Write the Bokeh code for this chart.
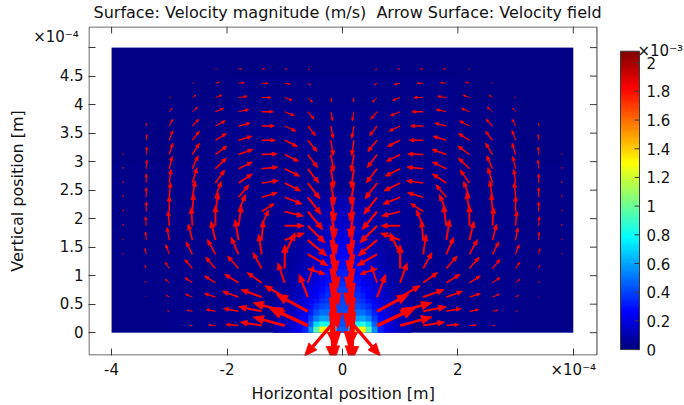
import numpy as np
from bokeh.plotting import figure
from bokeh.models import LinearColorMapper, FixedTicker, CustomJSTickFormatter, Range1d
from bokeh.core.properties import value
from bokeh.embed import file_html
from bokeh.resources import INLINE

FONT = "DejaVu Sans"

# ---------------- data (positions in 1e-4 m, velocities in 1e-3 m/s) ----------------
arrow_x = [-3.8, -3.4, -3.0, -2.6, -2.2, -1.8, -1.4, -1.0, -0.6, -0.2,
           0.2, 0.6, 1.0, 1.4, 1.8, 2.2, 2.6, 3.0, 3.4, 3.8]
arrow_y = [0.125, 0.375, 0.625, 0.875, 1.125, 1.375, 1.625, 1.875, 2.125, 2.375,
           2.625, 2.875, 3.125, 3.375, 3.625, 3.875, 4.125, 4.375, 4.625, 4.875]

# horizontal arrow component, rows bottom -> top
u_field = [
    [0, 0, 0, -0.04, -0.12, -0.22, -0.37, -0.55, -0.68, -0.46, 0.46, 0.68, 0.55, 0.37, 0.22, 0.12, 0.04, 0, 0, 0],
    [0, 0, -0.03, -0.09, -0.16, -0.26, -0.40, -0.55, -0.55, 0.05, -0.05, 0.55, 0.55, 0.40, 0.26, 0.16, 0.09, 0.03, 0, 0],
    [0, -0.01, -0.05, -0.12, -0.19, -0.28, -0.36, -0.35, -0.15, 0.08, -0.08, 0.15, 0.35, 0.36, 0.28, 0.19, 0.12, 0.05, 0.01, 0],
    [0, -0.02, -0.07, -0.13, -0.19, -0.24, -0.25, -0.12, 0.10, 0.12, -0.12, -0.10, 0.12, 0.25, 0.24, 0.19, 0.13, 0.07, 0.02, 0],
    [0, -0.02, -0.07, -0.13, -0.17, -0.19, -0.15, 0.0, 0.30, 0.13, -0.13, -0.30, 0.0, 0.15, 0.19, 0.17, 0.13, 0.07, 0.02, 0],
    [0, -0.02, -0.06, -0.11, -0.14, -0.13, -0.05, 0.18, 0.35, 0.12, -0.12, -0.35, -0.18, 0.05, 0.13, 0.14, 0.11, 0.06, 0.02, 0],
    [0, -0.01, -0.04, -0.07, -0.08, -0.06, 0.03, 0.34, 0.33, 0.10, -0.10, -0.33, -0.34, -0.03, 0.06, 0.08, 0.07, 0.04, 0.01, 0],
    [0, -0.01, -0.02, -0.02, 0.0, 0.05, 0.12, 0.33, 0.30, 0.09, -0.09, -0.30, -0.33, -0.12, -0.05, 0.0, 0.02, 0.02, 0.01, 0],
    [0, 0, 0, 0.02, 0.05, 0.12, 0.22, 0.32, 0.26, 0.08, -0.08, -0.26, -0.32, -0.22, -0.12, -0.05, -0.02, 0, 0, 0],
    [0, 0, 0.02, 0.05, 0.10, 0.18, 0.27, 0.30, 0.23, 0.07, -0.07, -0.23, -0.30, -0.27, -0.18, -0.10, -0.05, -0.02, 0, 0],
    [0, 0, 0.03, 0.08, 0.16, 0.24, 0.29, 0.28, 0.21, 0.06, -0.06, -0.21, -0.28, -0.29, -0.24, -0.16, -0.08, -0.03, 0, 0],
    [0, 0.01, 0.05, 0.10, 0.19, 0.24, 0.28, 0.26, 0.19, 0.05, -0.05, -0.19, -0.26, -0.28, -0.24, -0.19, -0.10, -0.05, -0.01, 0],
    [0, 0.01, 0.06, 0.12, 0.20, 0.25, 0.27, 0.24, 0.17, 0.05, -0.05, -0.17, -0.24, -0.27, -0.25, -0.20, -0.12, -0.06, -0.01, 0],
    [0, 0.01, 0.06, 0.12, 0.19, 0.23, 0.24, 0.22, 0.16, 0.04, -0.04, -0.16, -0.22, -0.24, -0.23, -0.19, -0.12, -0.06, -0.01, 0],
    [0, 0, 0.06, 0.11, 0.17, 0.20, 0.22, 0.19, 0.13, 0.04, -0.04, -0.13, -0.19, -0.22, -0.20, -0.17, -0.11, -0.06, 0, 0],
    [0, 0, 0.05, 0.09, 0.14, 0.18, 0.20, 0.17, 0.11, 0.03, -0.03, -0.11, -0.17, -0.20, -0.18, -0.14, -0.09, -0.05, 0, 0],
    [0, 0, 0.02, 0.06, 0.11, 0.15, 0.16, 0.13, 0.08, 0.01, -0.01, -0.08, -0.13, -0.16, -0.15, -0.11, -0.06, -0.02, 0, 0],
    [0, 0, 0, 0.02, 0.07, 0.10, 0.11, 0.10, 0.05, 0, 0, -0.05, -0.10, -0.11, -0.10, -0.07, -0.02, 0, 0, 0],
    [0, 0, 0, 0, 0.02, 0.05, 0.05, 0.04, 0.03, 0, 0, -0.03, -0.04, -0.05, -0.05, -0.02, 0, 0, 0, 0],
    [0, 0, 0, 0, 0, 0, 0, 0, 0, 0, 0, 0, 0, 0, 0, 0, 0, 0, 0, 0],
]
# vertical arrow component, rows bottom -> top
v_field = [
    [0, 0, 0, 0, 0.01, 0.02, 0.06, 0.15, 0.32, -0.54, -0.54, 0.32, 0.15, 0.06, 0.02, 0.01, 0, 0, 0, 0],
    [0, 0, 0.01, 0.02, 0.03, 0.05, 0.08, 0.15, 0.30, -0.90, -0.90, 0.30, 0.15, 0.08, 0.05, 0.03, 0.02, 0.01, 0, 0],
    [0, 0.01, 0.03, 0.05, 0.06, 0.10, 0.13, 0.20, 0.40, -0.90, -0.90, 0.40, 0.20, 0.13, 0.10, 0.06, 0.05, 0.03, 0.01, 0],
    [0.01, 0.03, 0.06, 0.09, 0.12, 0.15, 0.18, 0.35, 0.30, -0.80, -0.80, 0.30, 0.35, 0.18, 0.15, 0.12, 0.09, 0.06, 0.03, 0.01],
    [0.01, 0.06, 0.11, 0.16, 0.20, 0.22, 0.28, 0.42, -0.10, -0.65, -0.65, -0.10, 0.42, 0.28, 0.22, 0.20, 0.16, 0.11, 0.06, 0.01],
    [0.02, 0.10, 0.17, 0.22, 0.26, 0.30, 0.35, 0.38, -0.20, -0.60, -0.60, -0.20, 0.38, 0.35, 0.30, 0.26, 0.22, 0.17, 0.10, 0.02],
    [0.02, 0.14, 0.22, 0.28, 0.33, 0.36, 0.34, 0.12, -0.28, -0.55, -0.55, -0.28, 0.12, 0.34, 0.36, 0.33, 0.28, 0.22, 0.14, 0.02],
    [0.03, 0.16, 0.26, 0.32, 0.36, 0.36, 0.28, 0.0, -0.30, -0.50, -0.50, -0.30, 0.0, 0.28, 0.36, 0.36, 0.32, 0.26, 0.16, 0.03],
    [0.03, 0.17, 0.27, 0.31, 0.33, 0.30, 0.14, -0.08, -0.32, -0.46, -0.46, -0.32, -0.08, 0.14, 0.30, 0.33, 0.31, 0.27, 0.17, 0.03],
    [0.03, 0.17, 0.26, 0.29, 0.28, 0.22, 0.08, -0.12, -0.30, -0.42, -0.42, -0.30, -0.12, 0.08, 0.22, 0.28, 0.29, 0.26, 0.17, 0.03],
    [0.03, 0.16, 0.24, 0.27, 0.23, 0.16, 0.04, -0.14, -0.28, -0.38, -0.38, -0.28, -0.14, 0.04, 0.16, 0.23, 0.27, 0.24, 0.16, 0.03],
    [0.03, 0.15, 0.22, 0.23, 0.19, 0.12, 0.03, -0.13, -0.25, -0.34, -0.34, -0.25, -0.13, 0.03, 0.12, 0.19, 0.23, 0.22, 0.15, 0.03],
    [0.02, 0.13, 0.20, 0.20, 0.15, 0.09, 0.01, -0.12, -0.23, -0.30, -0.30, -0.23, -0.12, 0.01, 0.09, 0.15, 0.20, 0.20, 0.13, 0.02],
    [0, 0.10, 0.17, 0.16, 0.12, 0.07, 0, -0.11, -0.20, -0.27, -0.27, -0.20, -0.11, 0, 0.07, 0.12, 0.16, 0.17, 0.10, 0],
    [0, 0.05, 0.12, 0.12, 0.09, 0.05, 0, -0.09, -0.17, -0.22, -0.22, -0.17, -0.09, 0, 0.05, 0.09, 0.12, 0.12, 0.05, 0],
    [0, 0.01, 0.06, 0.08, 0.06, 0.04, 0, -0.07, -0.13, -0.16, -0.16, -0.13, -0.07, 0, 0.04, 0.06, 0.08, 0.06, 0.01, 0],
    [0, 0, 0.01, 0.04, 0.04, 0.02, 0, -0.05, -0.08, -0.08, -0.08, -0.08, -0.05, 0, 0.02, 0.04, 0.04, 0.01, 0, 0],
    [0, 0, 0, 0.01, 0.02, 0.01, 0, -0.02, -0.03, -0.01, -0.01, -0.03, -0.02, 0, 0.01, 0.02, 0.01, 0, 0, 0],
    [0, 0, 0, 0, 0, 0, 0, 0, -0.01, 0, 0, -0.01, 0, 0, 0, 0, 0, 0, 0, 0],
    [0, 0, 0, 0, 0, 0, 0, 0, 0, 0, 0, 0, 0, 0, 0, 0, 0, 0, 0, 0],
]

# velocity magnitude over the whole domain (8 x 10 cells of 1.0 x 0.5), rows bottom -> top
mag_domain = [
    [0.02, 0.03, 0.04, 0.05, 0.05, 0.04, 0.03, 0.02],
    [0.02, 0.03, 0.04, 0.05, 0.05, 0.04, 0.03, 0.02],
    [0.02, 0.03, 0.04, 0.05, 0.05, 0.04, 0.03, 0.02],
    [0.02, 0.03, 0.04, 0.05, 0.05, 0.04, 0.03, 0.02],
    [0.02, 0.03, 0.04, 0.05, 0.05, 0.04, 0.03, 0.02],
    [0.02, 0.03, 0.04, 0.04, 0.04, 0.04, 0.03, 0.02],
    [0.01, 0.02, 0.03, 0.04, 0.04, 0.03, 0.02, 0.01],
    [0.01, 0.02, 0.03, 0.03, 0.03, 0.03, 0.02, 0.01],
    [0.01, 0.01, 0.02, 0.02, 0.02, 0.02, 0.01, 0.01],
    [0.01, 0.01, 0.01, 0.01, 0.01, 0.01, 0.01, 0.01],
]
# velocity magnitude near the source: 24 x 24 cells of 0.1 x 0.1 (x -1.2..1.2, y 0..2.4), rows bottom -> top
mag_center = [
    [0.10, 0.12, 0.14, 0.18, 0.24, 0.33, 0.55, 0.95, 1.30, 1.25, 0.80, 0.45, 0.45, 0.80, 1.25, 1.30, 0.95, 0.55, 0.33, 0.24, 0.18, 0.14, 0.12, 0.10],
    [0.09, 0.11, 0.13, 0.17, 0.22, 0.30, 0.45, 0.70, 0.85, 0.80, 0.60, 0.42, 0.42, 0.60, 0.80, 0.85, 0.70, 0.45, 0.30, 0.22, 0.17, 0.13, 0.11, 0.09],
    [0.08, 0.10, 0.12, 0.15, 0.20, 0.27, 0.38, 0.52, 0.60, 0.58, 0.50, 0.42, 0.42, 0.50, 0.58, 0.60, 0.52, 0.38, 0.27, 0.20, 0.15, 0.12, 0.10, 0.08],
    [0.07, 0.09, 0.11, 0.14, 0.18, 0.24, 0.32, 0.42, 0.48, 0.48, 0.45, 0.42, 0.42, 0.45, 0.48, 0.48, 0.42, 0.32, 0.24, 0.18, 0.14, 0.11, 0.09, 0.07],
    [0.07, 0.08, 0.10, 0.13, 0.16, 0.21, 0.28, 0.35, 0.40, 0.42, 0.42, 0.41, 0.41, 0.42, 0.42, 0.40, 0.35, 0.28, 0.21, 0.16, 0.13, 0.10, 0.08, 0.07],
    [0.06, 0.07, 0.09, 0.12, 0.15, 0.19, 0.24, 0.30, 0.35, 0.38, 0.40, 0.40, 0.40, 0.40, 0.38, 0.35, 0.30, 0.24, 0.19, 0.15, 0.12, 0.09, 0.07, 0.06],
    [0.06, 0.07, 0.08, 0.11, 0.13, 0.17, 0.21, 0.26, 0.31, 0.35, 0.38, 0.39, 0.39, 0.38, 0.35, 0.31, 0.26, 0.21, 0.17, 0.13, 0.11, 0.08, 0.07, 0.06],
    [0.05, 0.06, 0.08, 0.10, 0.12, 0.15, 0.19, 0.23, 0.28, 0.33, 0.36, 0.38, 0.38, 0.36, 0.33, 0.28, 0.23, 0.19, 0.15, 0.12, 0.10, 0.08, 0.06, 0.05],
    [0.05, 0.06, 0.07, 0.09, 0.11, 0.14, 0.17, 0.21, 0.25, 0.30, 0.34, 0.36, 0.36, 0.34, 0.30, 0.25, 0.21, 0.17, 0.14, 0.11, 0.09, 0.07, 0.06, 0.05],
    [0.05, 0.06, 0.07, 0.08, 0.10, 0.13, 0.16, 0.19, 0.23, 0.28, 0.32, 0.34, 0.34, 0.32, 0.28, 0.23, 0.19, 0.16, 0.13, 0.10, 0.08, 0.07, 0.06, 0.05],
    [0.05, 0.05, 0.06, 0.08, 0.09, 0.12, 0.14, 0.17, 0.21, 0.26, 0.30, 0.32, 0.32, 0.30, 0.26, 0.21, 0.17, 0.14, 0.12, 0.09, 0.08, 0.06, 0.05, 0.05],
    [0.05, 0.05, 0.06, 0.07, 0.09, 0.11, 0.13, 0.16, 0.19, 0.24, 0.28, 0.30, 0.30, 0.28, 0.24, 0.19, 0.16, 0.13, 0.11, 0.09, 0.07, 0.06, 0.05, 0.05],
    [0.05, 0.05, 0.06, 0.07, 0.08, 0.10, 0.12, 0.15, 0.18, 0.22, 0.26, 0.28, 0.28, 0.26, 0.22, 0.18, 0.15, 0.12, 0.10, 0.08, 0.07, 0.06, 0.05, 0.05],
    [0.05, 0.05, 0.06, 0.07, 0.08, 0.09, 0.11, 0.13, 0.16, 0.20, 0.24, 0.26, 0.26, 0.24, 0.20, 0.16, 0.13, 0.11, 0.09, 0.08, 0.07, 0.06, 0.05, 0.05],
    [0.05, 0.05, 0.06, 0.06, 0.07, 0.09, 0.10, 0.12, 0.15, 0.18, 0.22, 0.24, 0.24, 0.22, 0.18, 0.15, 0.12, 0.10, 0.09, 0.07, 0.06, 0.06, 0.05, 0.05],
    [0.05, 0.05, 0.05, 0.06, 0.07, 0.08, 0.09, 0.11, 0.14, 0.17, 0.20, 0.22, 0.22, 0.20, 0.17, 0.14, 0.11, 0.09, 0.08, 0.07, 0.06, 0.05, 0.05, 0.05],
    [0.05, 0.05, 0.05, 0.06, 0.07, 0.08, 0.09, 0.11, 0.13, 0.16, 0.19, 0.20, 0.20, 0.19, 0.16, 0.13, 0.11, 0.09, 0.08, 0.07, 0.06, 0.05, 0.05, 0.05],
    [0.05, 0.05, 0.05, 0.06, 0.06, 0.07, 0.08, 0.10, 0.12, 0.15, 0.17, 0.18, 0.18, 0.17, 0.15, 0.12, 0.10, 0.08, 0.07, 0.06, 0.06, 0.05, 0.05, 0.05],
    [0.05, 0.05, 0.05, 0.06, 0.06, 0.07, 0.08, 0.09, 0.11, 0.13, 0.15, 0.16, 0.16, 0.15, 0.13, 0.11, 0.09, 0.08, 0.07, 0.06, 0.06, 0.05, 0.05, 0.05],
    [0.05, 0.05, 0.05, 0.05, 0.06, 0.07, 0.08, 0.09, 0.10, 0.12, 0.14, 0.15, 0.15, 0.14, 0.12, 0.10, 0.09, 0.08, 0.07, 0.06, 0.05, 0.05, 0.05, 0.05],
    [0.05, 0.05, 0.05, 0.05, 0.06, 0.06, 0.07, 0.08, 0.10, 0.11, 0.12, 0.13, 0.13, 0.12, 0.11, 0.10, 0.08, 0.07, 0.06, 0.06, 0.05, 0.05, 0.05, 0.05],
    [0.05, 0.05, 0.05, 0.05, 0.06, 0.06, 0.07, 0.08, 0.09, 0.10, 0.11, 0.12, 0.12, 0.11, 0.10, 0.09, 0.08, 0.07, 0.06, 0.06, 0.05, 0.05, 0.05, 0.05],
    [0.05, 0.05, 0.05, 0.05, 0.05, 0.06, 0.07, 0.07, 0.08, 0.09, 0.10, 0.11, 0.11, 0.10, 0.09, 0.08, 0.07, 0.07, 0.06, 0.05, 0.05, 0.05, 0.05, 0.05],
    [0.05, 0.05, 0.05, 0.05, 0.05, 0.06, 0.06, 0.07, 0.08, 0.08, 0.09, 0.10, 0.10, 0.09, 0.08, 0.08, 0.07, 0.06, 0.06, 0.05, 0.05, 0.05, 0.05, 0.05],
]
MAG_MAX = 2.08   # top of the colour range (max of the surface)

x_ticks = [-4, -2, 0, 2, 4]
y_ticks = [0, 0.5, 1, 1.5, 2, 2.5, 3, 3.5, 4, 4.5, 5]
cbar_ticks = [0, 0.2, 0.4, 0.6, 0.8, 1, 1.2, 1.4, 1.6, 1.8, 2]
cbar_labels = ["0", "0.2", "0.4", "0.6", "0.8", "1", "1.2", "1.4", "1.6", "1.8", "2"]

TITLE = "Surface: Velocity magnitude (m/s)\u00a0\u00a0Arrow Surface: Velocity field"
X_LABEL = "Horizontal position [m]"
Y_LABEL = "Vertical position [m]"
EXP4 = "\u00d710\u207b\u2074"
EXP3 = "\u00d710\u207b\u00b3"

# ---------------- colour map (jet) ----------------
t = np.linspace(0, 1, 256)
r = np.clip(1.5 - np.abs(4 * t - 3), 0, 1)
g = np.clip(1.5 - np.abs(4 * t - 2), 0, 1)
b = np.clip(1.5 - np.abs(4 * t - 1), 0, 1)
jet = ["#%02x%02x%02x" % (int(round(255 * a)), int(round(255 * c)), int(round(255 * d)))
       for a, c, d in zip(r, g, b)]
mapper = LinearColorMapper(palette=jet, low=0, high=MAG_MAX)

AX = "#3a3a3a"
TXT = "#111111"

# ---------------- layout geometry (pixels) ----------------
W, H = 684, 405
LEFT, TOP, BOTTOM = 88, 25, 47
PPU = (H - TOP - BOTTOM) / 5.77          # pixels per 1e-4 m (equal aspect)
XR = (-4.4, -4.4 + (W - LEFT) / PPU)     # frame reaches the right edge (colour bar inside)
YR = (-0.4, 5.37)
BOX_R = 4.41


def px_x(px):
    return XR[0] + (px - LEFT) / PPU


def px_y(py):
    return YR[1] - (py - TOP) / PPU


# the x label is centred on the frame, which also holds the colour bar: pad it so
# that it sits centred under the axes box
pad = "\u00a0" * 17

p = figure(width=W, height=H, x_range=Range1d(*XR), y_range=Range1d(*YR),
           output_backend="svg", toolbar_location=None,
           min_border_left=LEFT, min_border_right=0, min_border_top=TOP, min_border_bottom=BOTTOM,
           x_axis_label=X_LABEL + pad, y_axis_label=Y_LABEL)
p.background_fill_color = "white"
p.border_fill_color = "white"
p.outline_line_color = None
p.grid.visible = False

p.title.text = TITLE
p.title.text_font = FONT
p.title.text_font_size = "16px"
p.title.text_font_style = "normal"
p.title.text_color = TXT
p.title.align = "left"
p.title.offset = 5
p.title.vertical_align = "top"
p.title.standoff = 5

# surface
p.image(image=[np.array(mag_domain)], x=-4, y=0, dw=8, dh=5, color_mapper=mapper)
p.image(image=[np.array(mag_center)], x=-1.2, y=0, dw=2.4, dh=2.4, color_mapper=mapper)

# arrows: tail at grid point
X, Y = np.meshgrid(np.array(arrow_x), np.array(arrow_y))
U = np.array(u_field, dtype=float)
V = np.array(v_field, dtype=float)
L = np.hypot(U, V)
m = L > 0.012
x0, y0, u, v, l = X[m], Y[m], U[m], V[m], L[m]
ex, ey = u / l, v / l
x1, y1 = x0 + u, y0 + v
hl = 0.32 * l
hw = 0.13 * l
bx, by = x1 - ex * hl, y1 - ey * hl
lw = np.clip(0.07 * l * PPU + 0.5, 1.0, 3.6)
p.segment(x0=x0, y0=y0, x1=bx, y1=by, line_color="#ff0000", line_width=lw)
head_xs = [[a, c - s * w, c + s * w] for a, c, s, w in zip(x1, bx, ey, hw)]
head_ys = [[a, c + s * w, c - s * w] for a, c, s, w in zip(y1, by, ex, hw)]
p.patches(xs=head_xs, ys=head_ys, fill_color="#ff0000", line_color="#ff0000", line_width=0.8)

# axes box with inward ticks on all sides
half = 0.5 / PPU
p.quad(left=XR[0] + half, right=BOX_R, bottom=YR[0] + half, top=YR[1] - half,
       fill_color=None, line_color=AX, line_width=1)
tk = 7 / PPU
p.segment(x0=x_ticks, y0=[YR[1]] * len(x_ticks), x1=x_ticks, y1=[YR[1] - tk] * len(x_ticks),
          line_color=AX, line_width=1)
p.segment(x0=[BOX_R] * len(y_ticks), y0=y_ticks, x1=[BOX_R - tk] * len(y_ticks), y1=y_ticks,
          line_color=AX, line_width=1)

x_fmt = CustomJSTickFormatter(
    code="return (tick > 3.9) ? '%s' : String(Math.round(tick*10)/10);" % EXP4)
y_fmt = CustomJSTickFormatter(
    code="return (tick > 4.9) ? '%s\\u00a0\\n\\u00a0' : String(Math.round(tick*10)/10);" % EXP4)

for ax in (p.xaxis[0], p.yaxis[0]):
    ax.major_tick_in = 7
    ax.major_tick_out = 0
    ax.minor_tick_line_color = None
    ax.axis_line_color = None
    ax.major_tick_line_color = AX
    ax.major_label_text_font = FONT
    ax.major_label_text_font_size = "15px"
    ax.major_label_text_color = TXT
    ax.axis_label_text_font = FONT
    ax.axis_label_text_font_size = "16px"
    ax.axis_label_text_font_style = "normal"
    ax.axis_label_text_color = TXT
    ax.major_label_standoff = 5

p.xaxis[0].ticker = FixedTicker(ticks=x_ticks)
p.yaxis[0].ticker = FixedTicker(ticks=y_ticks)
p.xaxis[0].formatter = x_fmt
p.yaxis[0].formatter = y_fmt
p.xaxis[0].axis_label_standoff = 2
p.yaxis[0].axis_label_standoff = 3

# ---------------- colour bar ----------------
CB_X0, CB_X1 = px_x(620), px_x(639)
CB_Y0, CB_Y1 = px_y(352), px_y(50)
ramp = np.linspace(0, MAG_MAX, 256).reshape(-1, 1)
p.image(image=[ramp], x=CB_X0, y=CB_Y0, dw=CB_X1 - CB_X0, dh=CB_Y1 - CB_Y0, color_mapper=mapper)
p.quad(left=CB_X0, right=CB_X1, bottom=CB_Y0, top=CB_Y1, fill_color=None, line_color=AX, line_width=1)
cb_ty = [CB_Y0 + tv / MAG_MAX * (CB_Y1 - CB_Y0) for tv in cbar_ticks]
p.segment(x0=[CB_X1 - 5 / PPU] * len(cb_ty), y0=cb_ty, x1=[CB_X1] * len(cb_ty), y1=cb_ty,
          line_color=AX, line_width=1)
p.text(x=[CB_X1 + 7 / PPU] * len(cb_ty), y=cb_ty, text=cbar_labels,
       text_font=value(FONT), text_font_size="15px", text_color=TXT,
       text_align="left", text_baseline="middle")
p.text(x=[px_x(637)], y=[px_y(50)], text=[EXP3],
       text_font=value(FONT), text_font_size="15px", text_color=TXT,
       text_align="left", text_baseline="alphabetic")

open("out.html", "w").write(file_html(p, INLINE))
